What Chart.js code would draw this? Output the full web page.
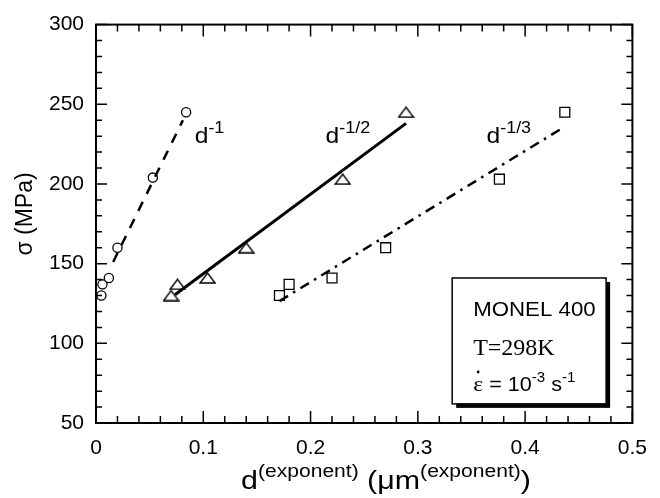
<!DOCTYPE html>
<html>
<head>
<meta charset="utf-8">
<script src="https://cdn.jsdelivr.net/npm/chart.js@4/dist/chart.umd.min.js"></script>
<style>
  html, body { margin: 0; padding: 0; background: #fff; }
  #wrap { width: 660px; height: 498px; }
</style>
</head>
<body>
<div id="wrap"><canvas id="grafico" width="660" height="498"></canvas></div>
<script>
// dados
var circX = [0.005, 0.006, 0.012, 0.020, 0.053, 0.084];
var circY = [130, 137, 141, 160, 204, 245];
var triX = [0.070, 0.076, 0.104, 0.140, 0.230, 0.289];
var triY = [130, 137, 141, 160, 203, 245];
var sqX = [0.171, 0.180, 0.220, 0.270, 0.376, 0.437];
var sqY = [130, 137, 141, 160, 203, 245];

// retas de ajuste (extremos)
var fitInvX = [0.016, 0.081];
var fitInvY = [151, 240];
var fitHalfX = [0.0736, 0.289];
var fitHalfY = [130.5, 238];
var fitThirdX = [0.171, 0.437];
var fitThirdY = [126.5, 236];

var xTicks = [0, 0.1, 0.2, 0.3, 0.4, 0.5];
var yTicks = [50, 100, 150, 200, 250, 300];

function pares(xs, ys) {
    var out = [];
    for (var i = 0; i < xs.length; i++) out.push({x: xs[i], y: ys[i]});
    return out;
}

// triângulo achatado como no original
var tri = document.createElement('canvas');
tri.width = 17; tri.height = 12;
var tc = tri.getContext('2d');
tc.strokeStyle = '#000';
tc.lineWidth = 1.4;
tc.beginPath();
tc.moveTo(1, 11); tc.lineTo(8.5, 1); tc.lineTo(16, 11); tc.closePath();
tc.stroke();

var SANS = '"Liberation Sans", Arial, Helvetica, sans-serif';
var SERIF = '"Liberation Serif", "Times New Roman", serif';

// texto com partes (sobrescritos) e esticado na horizontal
function textoRico(ctx, parts, x, y, stretch, align) {
    ctx.save();
    var w = 0;
    parts.forEach(function(p) { ctx.font = p.font; w += ctx.measureText(p.t).width; });
    ctx.translate(x, y);
    ctx.scale(stretch, 1);
    var cx = align === 'center' ? -w / 2 : 0;
    ctx.fillStyle = '#000';
    ctx.textBaseline = 'alphabetic';
    ctx.textAlign = 'left';
    parts.forEach(function(p) {
        ctx.font = p.font;
        ctx.fillText(p.t, cx, p.dy || 0);
        cx += ctx.measureText(p.t).width;
    });
    ctx.restore();
}

var extras = {
    id: 'extras',
    afterDraw: function(chart) {
        var ctx = chart.ctx;
        var a = chart.chartArea;
        var xs = chart.scales.x, ys = chart.scales.y;
        ctx.save();
        ctx.strokeStyle = '#000';

        // marcas dos eixos (para dentro), nos quatro lados
        ctx.lineWidth = 1.5;
        ctx.beginPath();
        for (var v = 0; v <= 0.5001; v += 0.02) {
            var px = xs.getPixelForValue(v);
            var major = Math.abs(v * 10 - Math.round(v * 10)) < 1e-6;
            var len = major ? 12 : 7;
            ctx.moveTo(px, a.bottom); ctx.lineTo(px, a.bottom - len);
            ctx.moveTo(px, a.top); ctx.lineTo(px, a.top + len);
        }
        for (var t = 50; t <= 300; t += 10) {
            var py = ys.getPixelForValue(t);
            var len2 = (t % 50 === 0) ? 11 : 6;
            ctx.moveTo(a.left, py); ctx.lineTo(a.left + len2, py);
            ctx.moveTo(a.right, py); ctx.lineTo(a.right - len2, py);
        }
        ctx.stroke();

        // moldura
        ctx.lineWidth = 2;
        ctx.strokeRect(a.left, a.top, a.right - a.left, a.bottom - a.top);

        // rótulos das retas
        var big = '22px ' + SANS, sup = '16px ' + SANS;
        textoRico(ctx, [{t: 'd', font: big}, {t: '-1', font: sup, dy: -10}],
            xs.getPixelForValue(0.092), ys.getPixelForValue(226), 1.12, 'left');
        textoRico(ctx, [{t: 'd', font: big}, {t: '-1/2', font: sup, dy: -10}],
            xs.getPixelForValue(0.214), ys.getPixelForValue(225.5), 1.12, 'left');
        textoRico(ctx, [{t: 'd', font: big}, {t: '-1/3', font: sup, dy: -10}],
            xs.getPixelForValue(0.364), ys.getPixelForValue(225.5), 1.12, 'left');

        // caixa de condições
        var bx0 = xs.getPixelForValue(0.332), bx1 = xs.getPixelForValue(0.4755);
        var by0 = ys.getPixelForValue(141), by1 = ys.getPixelForValue(62);
        ctx.fillStyle = '#000';
        ctx.fillRect(bx0 + 4, by0 + 4, bx1 - bx0, by1 - by0);
        ctx.fillStyle = '#fff';
        ctx.fillRect(bx0, by0, bx1 - bx0, by1 - by0);
        ctx.lineWidth = 1.5;
        ctx.strokeRect(bx0, by0, bx1 - bx0, by1 - by0);

        var tx = bx0 + 21;
        textoRico(ctx, [{t: 'MONEL 400', font: '21px ' + SANS}], tx, by0 + 38, 1.06, 'left');
        textoRico(ctx, [{t: 'T=298K', font: '24px ' + SERIF}], tx, by0 + 77, 1.0, 'left');
        textoRico(ctx, [
            {t: '\u03b5', font: '22px ' + SERIF},
            {t: ' = 10', font: '20px ' + SANS},
            {t: '-3', font: '14px ' + SANS, dy: -9},
            {t: ' s', font: '20px ' + SANS},
            {t: '-1', font: '14px ' + SANS, dy: -9}
        ], tx, by0 + 113, 1.08, 'left');
        ctx.fillStyle = '#000';
        ctx.beginPath();
        ctx.arc(tx + 5, by0 + 113 - 19, 1.4, 0, Math.PI * 2);
        ctx.fill();

        // títulos dos eixos
        textoRico(ctx, [
            {t: 'd', font: '26px ' + SANS},
            {t: '(exponent)', font: '18px ' + SANS, dy: -12},
            {t: ' (\u03bcm', font: '26px ' + SANS},
            {t: '(exponent)', font: '18px ' + SANS, dy: -12},
            {t: ')', font: '26px ' + SANS}
        ], 386, 489, 1.17, 'center');

        ctx.save();
        ctx.translate(32, 214);
        ctx.rotate(-Math.PI / 2);
        ctx.fillStyle = '#000';
        ctx.font = '23px ' + SANS;
        ctx.textAlign = 'center';
        ctx.textBaseline = 'alphabetic';
        ctx.fillText('\u03c3 (MPa)', 0, 0);
        ctx.restore();

        ctx.restore();
    }
};

new Chart(document.getElementById('grafico').getContext('2d'), {
    type: 'scatter',
    data: {
        datasets: [{
            label: 'ajuste d^-1',
            data: pares(fitInvX, fitInvY),
            showLine: true,
            borderColor: '#000',
            borderWidth: 2.5,
            borderDash: [10, 9],
            pointRadius: 0
        }, {
            label: 'ajuste d^-1/2',
            data: pares(fitHalfX, fitHalfY),
            showLine: true,
            borderColor: '#000',
            borderWidth: 3,
            pointRadius: 0
        }, {
            label: 'ajuste d^-1/3',
            data: pares(fitThirdX, fitThirdY),
            showLine: true,
            borderColor: '#000',
            borderWidth: 2.5,
            borderDash: [10, 6, 2.5, 6],
            pointRadius: 0
        }, {
            label: 'd^-1',
            data: pares(circX, circY),
            pointStyle: 'circle',
            pointRadius: 4.6,
            borderColor: '#000',
            borderWidth: 1.3,
            backgroundColor: '#fff'
        }, {
            label: 'd^-1/2',
            data: pares(triX, triY),
            pointStyle: tri,
            pointRadius: 7
        }, {
            label: 'd^-1/3',
            data: pares(sqX, sqY),
            pointStyle: 'rect',
            pointRadius: 7,
            borderColor: '#000',
            borderWidth: 1.3,
            backgroundColor: '#fff'
        }]
    },
    options: {
        responsive: false,
        animation: false,
        devicePixelRatio: 1,
        layout: { padding: { left: 0, right: 26, top: 16, bottom: 0 } },
        plugins: {
            legend: { display: false },
            tooltip: { enabled: false }
        },
        scales: {
            x: {
                type: 'linear',
                min: 0,
                max: 0.5,
                afterFit: function(s) { s.height = 75; },
                afterBuildTicks: function(s) { s.ticks = xTicks.map(function(v) { return {value: v}; }); },
                grid: { display: false, drawTicks: false },
                border: { display: false },
                ticks: {
                    padding: 13,
                    color: '#000',
                    font: { family: SANS, size: 21 },
                    maxRotation: 0,
                    callback: function(v) { return v === 0 ? '0' : v.toFixed(1); }
                }
            },
            y: {
                type: 'linear',
                min: 50,
                max: 300,
                afterFit: function(s) { s.width = 96; },
                afterBuildTicks: function(s) { s.ticks = yTicks.map(function(v) { return {value: v}; }); },
                grid: { display: false, drawTicks: false },
                border: { display: false },
                ticks: {
                    padding: 12,
                    color: '#000',
                    font: { family: SANS, size: 21 }
                }
            }
        }
    },
    plugins: [extras]
});
</script>
</body>
</html>
